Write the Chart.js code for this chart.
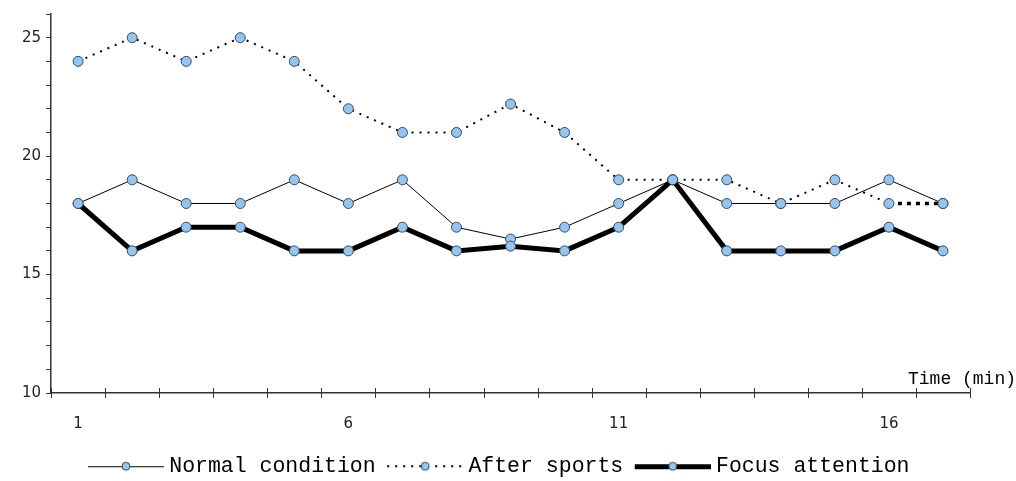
<!DOCTYPE html>
<html lang="en">
<head>
<meta charset="UTF-8">
<title>Time (min)</title>
<style>
  html, body { margin: 0; padding: 0; background: #fff; }
  #wrap { width: 1016px; height: 481px; }
</style>
</head>
<body>
<div id="wrap"><canvas id="chart" width="1016" height="481"></canvas></div>
<script src="https://cdn.jsdelivr.net/npm/chart.js@4.4.1/dist/chart.umd.min.js"></script>
<script>
const minutes = ['1','2','3','4','5','6','7','8','9','10','11','12','13','14','15','16','17'];
const normalCondition = [18, 19, 18, 18, 19, 18, 19, 17, 16.5, 17, 18, 19, 18, 18, 18, 19, 18];
const afterSports = [24, 25, 24, 25, 24, 22, 21, 21, 22.2, 21, 19, 19, 19, 18, 19, 18, 18];
const focusAttention = [18, 16, 17, 17, 16, 16, 17, 16, 16.2, 16, 17, 19, 16, 16, 16, 17, 16];
const yTickLabels = [10, 15, 20, 25];

const markFill = '#93c5f0';
const markEdge = '#3a4a5a';

// line+marker swatch for the legend (blank strip on the left = gap to previous item)
function swatch(width, dash) {
    const c = document.createElement('canvas');
    c.width = 92; c.height = 14;
    const g = c.getContext('2d');
    const yy = width % 2 ? 7.5 : 7;
    g.strokeStyle = '#000';
    g.lineWidth = width;
    g.setLineDash(dash);
    g.beginPath(); g.moveTo(16, yy); g.lineTo(92, yy); g.stroke();
    g.setLineDash([]);
    g.beginPath(); g.arc(54, 7, 4, 0, Math.PI * 2);
    g.fillStyle = markFill; g.fill();
    g.lineWidth = 1; g.strokeStyle = markEdge; g.stroke();
    return c;
}
const swatches = [swatch(1, []), swatch(2, [2, 6]), swatch(5, [])];

// ticks that cross the x axis line, plus the axis title at the right end
const axisExtras = {
    id: 'axisExtras',
    afterDraw(chart) {
        const ctx = chart.ctx;
        const x = chart.scales.x;
        const y0 = x.top;
        const step = x.getPixelForValue(1) - x.getPixelForValue(0);
        ctx.save();
        ctx.strokeStyle = '#333';
        ctx.lineWidth = 1;
        for (let i = 0; i <= minutes.length; i++) {
            const px = Math.round(x.getPixelForValue(i) - step / 2) + 0.5;
            ctx.beginPath(); ctx.moveTo(px, y0 - 5); ctx.lineTo(px, y0 + 5); ctx.stroke();
        }
        ctx.fillStyle = '#000';
        ctx.font = '18px "Liberation Mono", monospace';
        ctx.textAlign = 'right';
        ctx.textBaseline = 'middle';
        ctx.fillText('Time (min)', 1016, y0 - 14);
        ctx.restore();
    }
};

const ds = (label, data, width, dash, order) => ({
    label, data, order,
    borderColor: '#000',
    borderWidth: width,
    borderDash: dash,
    pointRadius: 5,
    pointBackgroundColor: markFill,
    pointBorderColor: markEdge,
    pointBorderWidth: 1,
    tension: 0,
    fill: false
});

const sportsSet = ds('After sports', afterSports, 2, [2, 6], 2);
sportsSet.segment = {
    borderWidth: c => c.p0DataIndex === 15 ? 3.5 : undefined,
    borderDash: c => c.p0DataIndex === 15 ? [4, 5] : undefined
};

new Chart(document.getElementById('chart'), {
    type: 'line',
    data: {
        labels: minutes,
        datasets: [
            ds('Normal condition', normalCondition, 1, [], 3),
            sportsSet,
            ds('Focus attention', focusAttention, 5, [], 1)
        ]
    },
    options: {
        responsive: false,
        animation: false,
        layout: { padding: { left: 17, right: 46, top: -4, bottom: -6 } },
        scales: {
            x: {
                type: 'category',
                offset: true,
                grid: { display: false, drawTicks: false },
                border: { display: true, color: '#333', width: 1.5 },
                ticks: {
                    autoSkip: false,
                    maxRotation: 0,
                    padding: 24,
                    color: '#222',
                    font: { family: 'DejaVu Sans', size: 15, lineHeight: 0.9 },
                    callback: (v, i) => (i % 5 === 0 ? minutes[i] : '')
                }
            },
            y: {
                min: 10,
                max: 26,
                grid: { drawOnChartArea: false, tickLength: 5, color: '#333' },
                border: { display: true, color: '#333', width: 1.5 },
                ticks: {
                    stepSize: 1,
                    padding: 5,
                    color: '#222',
                    font: { family: 'DejaVu Sans', size: 15 },
                    callback: v => (yTickLabels.includes(v) ? String(v) : '')
                }
            }
        },
        plugins: {
            legend: {
                position: 'bottom',
                labels: {
                    usePointStyle: true,
                    pointStyleWidth: 81,
                    padding: 1,
                    color: '#000',
                    font: { family: '"Liberation Mono", monospace', size: 21.5 },
                    sort: (a, b) => a.datasetIndex - b.datasetIndex,
                    generateLabels(chart) {
                        const items = Chart.defaults.plugins.legend.labels.generateLabels(chart);
                        items.forEach(it => { it.pointStyle = swatches[it.datasetIndex]; });
                        return items;
                    }
                }
            },
            tooltip: { enabled: false }
        }
    },
    plugins: [axisExtras]
});
</script>
</body>
</html>
